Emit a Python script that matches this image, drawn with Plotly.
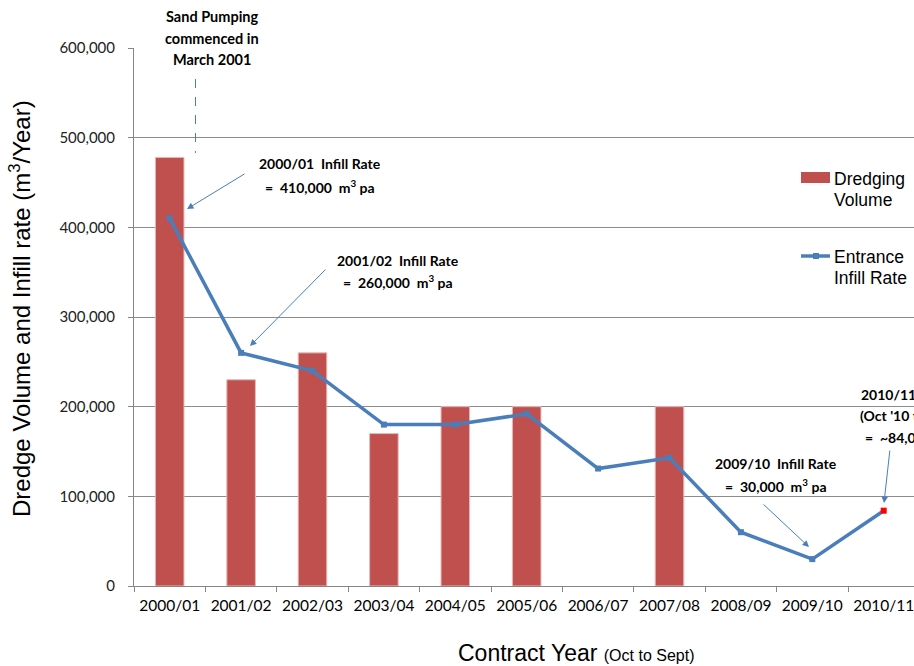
import plotly.graph_objects as go

# Contract years (Oct to Sept)
years = ["2000/01", "2001/02", "2002/03", "2003/04", "2004/05", "2005/06",
         "2006/07", "2007/08", "2008/09", "2009/10", "2010/11"]

# Annual dredging volume (m3); None where no dredging took place
dredging_volume = [478000, 230000, 260000, 170000, 200000, 200000,
                   None, 200000, None, None, None]

# Entrance infill rate (m3/year)
infill_rate = [410000, 260000, 240000, 180000, 180000, 192000,
               131000, 143000, 60000, 30000, 84000]

y_ticks = [0, 100000, 200000, 300000, 400000, 500000, 600000]
y_tick_text = ["0", "100,000", "200,000", "300,000", "400,000", "500,000", "600,000"]

W, H = 914, 666
L, R, T, B = 134, 0, 48, 80
PW, PH = W - L - R, H - T - B

BAR_RED = "#C0504D"
LINE_BLUE = "#4A7EBB"
LABEL_FONT = "Lato"
SANS = "Liberation Sans"


def px(x):
    return (x - L) / PW


def py(y):
    return (H - B - y) / PH


fig = go.Figure()

fig.add_trace(go.Bar(
    x=years, y=dredging_volume, width=0.4,
    marker=dict(color=BAR_RED, line=dict(color="#E6B9B8", width=1)),
    name="Dredging Volume", showlegend=False,
))

marker_colors = [LINE_BLUE] * (len(years) - 1) + ["#FF0000"]
fig.add_trace(go.Scatter(
    x=years, y=infill_rate, mode="lines+markers",
    line=dict(color=LINE_BLUE, width=3.5),
    marker=dict(symbol="square", size=6, color=marker_colors),
    name="Entrance Infill Rate", showlegend=False, cliponaxis=False,
))

annotations = []


def text_lines(lines, cx, ys, size=14, bold=True, anchor="center"):
    for t, yy in zip(lines, ys):
        annotations.append(dict(
            x=px(cx), y=py(yy), xref="paper", yref="paper",
            text=f"<b>{t}</b>" if bold else t, showarrow=False,
            xanchor=anchor, yanchor="middle",
            font=dict(family=LABEL_FONT, size=size, color="#000"),
        ))


# Callout texts
text_lines(["Sand Pumping", "commenced in", "March 2001"], 212, [17, 38, 59], size=14.5)
text_lines(["2000/01  Infill Rate", "=  410,000  m<sup>3</sup> pa"], 320, [163, 186])
text_lines(["2001/02  Infill Rate", "=  260,000  m<sup>3</sup> pa"], 398, [260, 281])
text_lines(["2009/10  Infill Rate", "=  30,000  m<sup>3</sup> pa"], 776, [463, 485])
text_lines(["2010/11 Infill Rate", "(Oct '10 to Mar '11)", "=  ~84,000  m<sup>3</sup> pa"],
           920, [394, 415, 436])


def arrow(head_x, head_y, tail_x, tail_y):
    annotations.append(dict(
        x=px(head_x), y=py(head_y), xref="paper", yref="paper",
        ax=tail_x - head_x, ay=tail_y - head_y, text="",
        showarrow=True, arrowhead=2, arrowsize=1.3, arrowwidth=1,
        arrowcolor=LINE_BLUE,
    ))


arrow(187, 209, 246, 173)
arrow(250, 346, 327, 268)
arrow(809, 547, 762, 503)
arrow(884, 503, 890, 449)

# Legend entries
legend_font = dict(family=SANS, size=17.5, color="#000")
for t, yy in [("Dredging", 179), ("Volume", 200), ("Entrance", 257), ("Infill Rate", 278)]:
    annotations.append(dict(x=px(832), y=py(yy), xref="paper", yref="paper",
                            text=t, showarrow=False, xanchor="left",
                            yanchor="middle", font=legend_font))

# Axis titles
annotations.append(dict(
    x=px(20), y=py(309), xref="paper", yref="paper", textangle=-90,
    text="Dredge Volume and Infill rate (m<sup>3</sup>/Year)", showarrow=False,
    xanchor="center", yanchor="middle", font=dict(family=SANS, size=24, color="#000"),
))
annotations.append(dict(
    x=px(456), y=py(653), xref="paper", yref="paper",
    text="Contract Year <span style='font-size:16px'>(Oct to Sept)</span>",
    showarrow=False, xanchor="left", yanchor="middle",
    font=dict(family=SANS, size=23, color="#000"),
))

shapes = [
    # Sand pumping start marker
    dict(type="line", xref="paper", yref="paper", x0=px(195.5), x1=px(195.5),
         y0=py(79), y1=py(153), line=dict(color=LINE_BLUE, width=1, dash="dash")),
    # Legend symbols
    dict(type="rect", xref="paper", yref="paper", x0=px(801), x1=px(830),
         y0=py(183), y1=py(172), fillcolor=BAR_RED, line=dict(width=0)),
    dict(type="line", xref="paper", yref="paper", x0=px(801), x1=px(830),
         y0=py(256), y1=py(256), line=dict(color=LINE_BLUE, width=3.5)),
    dict(type="rect", xref="paper", yref="paper", x0=px(813), x1=px(819),
         y0=py(259), y1=py(253), fillcolor=LINE_BLUE, line=dict(width=0)),
]

fig.update_layout(
    width=W, height=H,
    margin=dict(l=L, r=R, t=T, b=B, pad=0),
    plot_bgcolor="white", paper_bgcolor="white",
    bargap=0.6, showlegend=False,
    annotations=annotations, shapes=shapes,
    xaxis=dict(
        type="category", range=[-0.5, (PW / 71.4) - 0.5],
        tickson="boundaries", ticks="outside", ticklen=5, tickcolor="#868686",
        showline=True, linecolor="#868686", linewidth=1, showgrid=False,
        tickfont=dict(family=LABEL_FONT, size=15.5, color="#000"),
        ticklabelstandoff=5,
    ),
    yaxis=dict(
        range=[0, 600000], tickvals=y_ticks, ticktext=y_tick_text,
        ticks="outside", ticklen=5, tickcolor="#868686",
        showline=True, linecolor="#868686", linewidth=1,
        showgrid=True, gridcolor="#8C8C8C", gridwidth=1,
        zeroline=False,
        tickfont=dict(family=LABEL_FONT, size=15, color="#222"),
        ticklabelstandoff=10,
    ),
)

fig.write_html("out.html")
